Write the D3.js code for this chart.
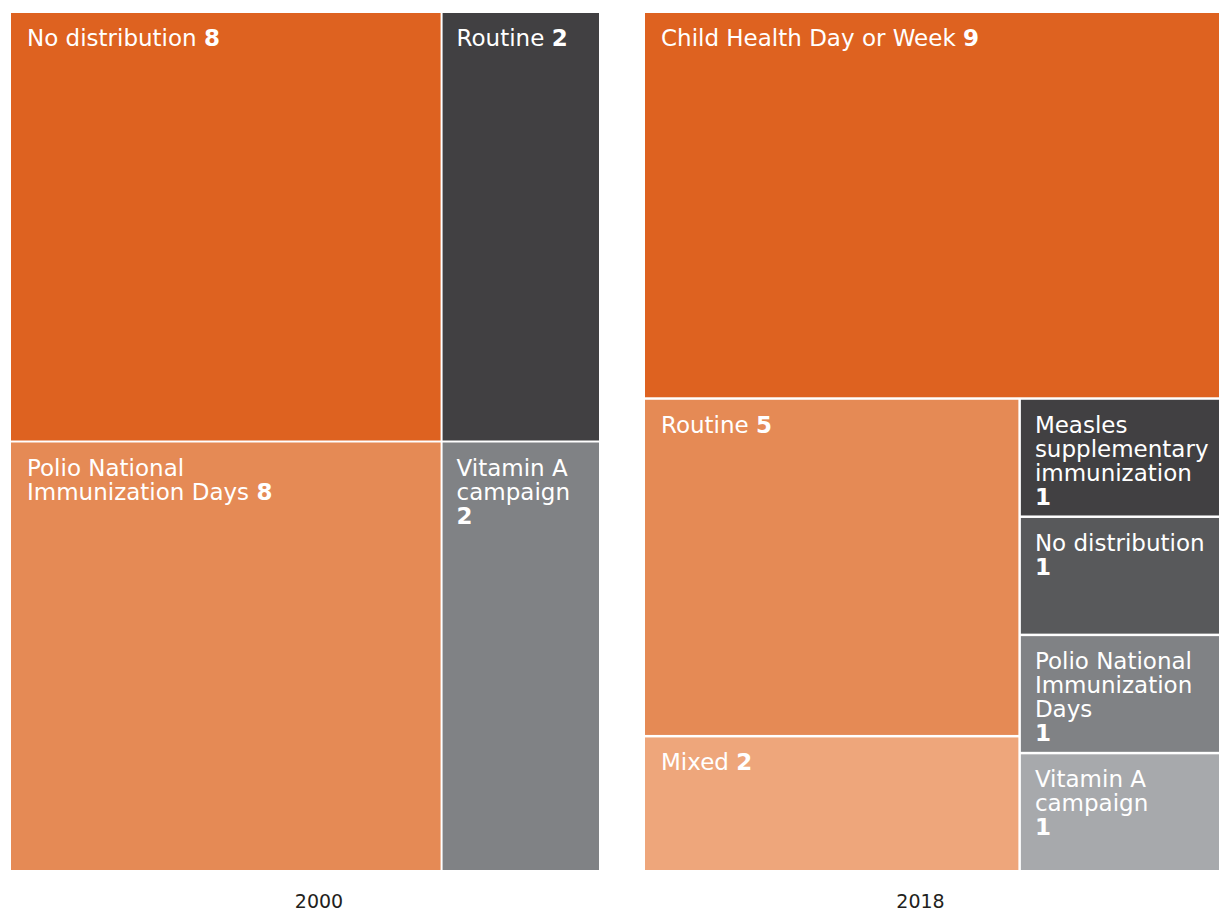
<!DOCTYPE html>
<html>
<head>
<meta charset="utf-8">
<script src="https://cdn.jsdelivr.net/npm/d3@7"></script>
<style>
  html, body { margin: 0; padding: 0; background: #fff; }
  svg { display: block; }
</style>
</head>
<body>
<svg id="chart" width="1219" height="914"></svg>
<script>
// ---------- DATA ----------
const years = ["2000", "2018"];

const categories2000 = ["No distribution", "Polio National\nImmunization Days", "Routine", "Vitamin A\ncampaign"];
const values2000 = [8, 8, 2, 2];

const categories2018 = ["Child Health Day or Week", "Routine", "Mixed",
  "Measles\nsupplementary\nimmunization", "No distribution",
  "Polio National\nImmunization\nDays", "Vitamin A\ncampaign"];
const values2018 = [9, 5, 2, 1, 1, 1, 1];

// ---------- STYLE / LAYOUT ----------
const colors2000 = ["#DE6220", "#E58A55", "#414042", "#808285"];
const colors2018 = ["#DE6220", "#E58A55", "#EEA67B", "#414042", "#58595B", "#808285", "#A7A9AC"];

// grouping structure (indices into the arrays above)
const structure2000 = { dir: "h", share: 0.7315, children: [
  { dir: "v", children: [0, 1] },
  { dir: "v", children: [2, 3] }
]};
const structure2018 = { dir: "v", children: [
  0,
  { dir: "h", share: 0.652, children: [
    { dir: "v", children: [1, 2] },
    { dir: "v", children: [3, 4, 5, 6] }
  ]}
]};

const charts = [
  { year: years[0], cats: categories2000, vals: values2000, colors: colors2000, struct: structure2000,
    x0: 11, y0: 13, x1: 599, y1: 870, yearX: 319, pad: 2 },
  { year: years[1], cats: categories2018, vals: values2018, colors: colors2018, struct: structure2018,
    x0: 645, y0: 13, x1: 1219, y1: 870, yearX: 920.5, pad: 2.5 }
];

const FONT = "'DejaVu Sans', sans-serif";
const FS = 23, LH = 24, BASE = 33;
const txtPad = w => (w < 250 ? 14 : 16);

const svg = d3.select("#chart");

function buildTree(node, c) {
  if (typeof node === "number") {
    return { name: c.cats[node], value: c.vals[node], color: c.colors[node], idx: node };
  }
  return { dir: node.dir, share: node.share, children: node.children.map(ch => buildTree(ch, c)) };
}

function tile(node, x0, y0, x1, y1) {
  const d = node.data;
  if (d.share != null && node.children && node.children.length === 2) {
    const [a, b] = node.children;
    if (d.dir === "h") {
      const xm = x0 + (x1 - x0) * d.share;
      a.x0 = x0; a.x1 = xm; a.y0 = y0; a.y1 = y1;
      b.x0 = xm; b.x1 = x1; b.y0 = y0; b.y1 = y1;
    } else {
      const ym = y0 + (y1 - y0) * d.share;
      a.x0 = x0; a.x1 = x1; a.y0 = y0; a.y1 = ym;
      b.x0 = x0; b.x1 = x1; b.y0 = ym; b.y1 = y1;
    }
  } else if (d.dir === "h") {
    d3.treemapDice(node, x0, y0, x1, y1);
  } else {
    d3.treemapSlice(node, x0, y0, x1, y1);
  }
}

// hidden measurer
const measure = svg.append("text").attr("font-family", FONT).attr("font-size", FS).attr("visibility", "hidden");
function textWidth(str, boldPart) {
  measure.selectAll("*").remove();
  measure.text(null);
  measure.append("tspan").text(str);
  if (boldPart != null) measure.append("tspan").attr("font-weight", "bold").text(boldPart);
  return measure.node().getComputedTextLength();
}

charts.forEach(c => {
  const root = d3.hierarchy(buildTree(c.struct, c)).sum(d => d.value || 0);
  d3.treemap()
    .tile(tile)
    .size([c.x1 - c.x0, c.y1 - c.y0])
    .paddingInner(c.pad)
    .round(false)(root);

  const g = svg.append("g").attr("transform", `translate(${c.x0},${c.y0})`);
  const leaves = g.selectAll("g.leaf").data(root.leaves()).join("g").attr("class", "leaf");

  leaves.append("rect")
    .attr("x", d => d.x0).attr("y", d => d.y0)
    .attr("width", d => d.x1 - d.x0).attr("height", d => d.y1 - d.y0)
    .attr("fill", d => d.data.color);

  leaves.each(function(d) {
    const w = d.x1 - d.x0;
    const pad = txtPad(w);
    const lines = d.data.name.split("\n");
    const valStr = String(d.data.value);
    const inline = (w >= 300) ||
      (lines.length === 1 && textWidth(lines[0] + " ", valStr) <= w - 2 * pad);
    const t = d3.select(this).append("text")
      .attr("font-family", FONT).attr("font-size", FS).attr("fill", "#fff");
    const x = d.x0 + pad;
    let y = d.y0 + BASE;
    lines.forEach((ln, i) => {
      const last = i === lines.length - 1;
      t.append("tspan").attr("x", x).attr("y", y).text(ln + ((last && inline) ? " " : ""));
      if (last && inline) {
        t.append("tspan").attr("font-weight", "bold").text(valStr);
      }
      y += LH;
    });
    if (!inline) {
      t.append("tspan").attr("x", x).attr("y", y).attr("font-weight", "bold").text(valStr);
    }
  });

  svg.append("text")
    .attr("x", c.yearX).attr("y", 908)
    .attr("text-anchor", "middle")
    .attr("font-family", FONT).attr("font-size", 19)
    .attr("fill", "#231F20")
    .text(c.year);
});
measure.remove();
</script>
</body>
</html>
